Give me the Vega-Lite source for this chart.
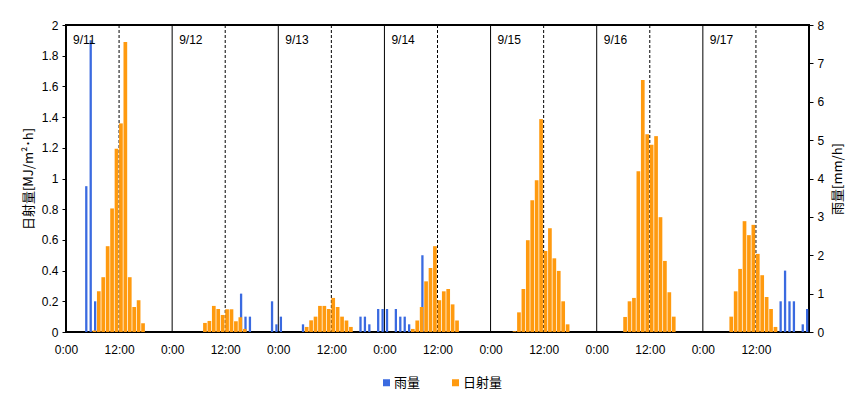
{
  "$schema": "https://vega.github.io/schema/vega-lite/v6.json",
  "width": 743,
  "height": 307,
  "autosize": "none",
  "padding": {"left": 66, "top": 25, "right": 56, "bottom": 65},
  "background": "white",
  "config": {
    "view": {"stroke": "black", "strokeWidth": 2},
    "axis": {"labelFont": "Liberation Sans", "labelFontSize": 12, "labelColor": "black", "labelFlush": false, "labelOverlap": false, "grid": false, "domain": false, "tickColor": "black", "titleFont": "Noto Sans CJK JP", "titleFontSize": 13, "titleFontWeight": "normal", "titleColor": "black"}
  },
  "datasets": {
    "rain": [
      {"t": 4, "mm": 3.8}, {"t": 5, "mm": 7.6}, {"t": 6, "mm": 0.8},
      {"t": 39, "mm": 1.0}, {"t": 40, "mm": 0.4}, {"t": 41, "mm": 0.4}, {"t": 46, "mm": 0.8}, {"t": 47, "mm": 0.2},
      {"t": 48, "mm": 0.4}, {"t": 53, "mm": 0.2}, {"t": 66, "mm": 0.4}, {"t": 67, "mm": 0.4}, {"t": 68, "mm": 0.2}, {"t": 70, "mm": 0.6}, {"t": 71, "mm": 0.6},
      {"t": 72, "mm": 0.6}, {"t": 74, "mm": 0.6}, {"t": 75, "mm": 0.4}, {"t": 76, "mm": 0.4}, {"t": 77, "mm": 0.2}, {"t": 80, "mm": 2.0},
      {"t": 161, "mm": 0.8}, {"t": 162, "mm": 1.6}, {"t": 163, "mm": 0.8}, {"t": 164, "mm": 0.8}, {"t": 166, "mm": 0.2}, {"t": 167, "mm": 0.6}
    ],
    "solar": [
      {"t": 6, "mj": 0.01}, {"t": 7, "mj": 0.265}, {"t": 8, "mj": 0.357}, {"t": 9, "mj": 0.559}, {"t": 10, "mj": 0.805}, {"t": 11, "mj": 1.193}, {"t": 12, "mj": 1.359}, {"t": 13, "mj": 1.889}, {"t": 14, "mj": 0.357}, {"t": 15, "mj": 0.163}, {"t": 16, "mj": 0.207}, {"t": 17, "mj": 0.057},
      {"t": 31, "mj": 0.059}, {"t": 32, "mj": 0.072}, {"t": 33, "mj": 0.17}, {"t": 34, "mj": 0.15}, {"t": 35, "mj": 0.111}, {"t": 36, "mj": 0.148}, {"t": 37, "mj": 0.148}, {"t": 38, "mj": 0.07}, {"t": 39, "mj": 0.096}, {"t": 40, "mj": 0.02},
      {"t": 54, "mj": 0.033}, {"t": 55, "mj": 0.076}, {"t": 56, "mj": 0.1}, {"t": 57, "mj": 0.17}, {"t": 58, "mj": 0.17}, {"t": 59, "mj": 0.15}, {"t": 60, "mj": 0.222}, {"t": 61, "mj": 0.163}, {"t": 62, "mj": 0.1}, {"t": 63, "mj": 0.075}, {"t": 64, "mj": 0.033},
      {"t": 78, "mj": 0.02}, {"t": 79, "mj": 0.075}, {"t": 80, "mj": 0.163}, {"t": 81, "mj": 0.33}, {"t": 82, "mj": 0.417}, {"t": 83, "mj": 0.559}, {"t": 84, "mj": 0.207}, {"t": 85, "mj": 0.265}, {"t": 86, "mj": 0.28}, {"t": 87, "mj": 0.18}, {"t": 88, "mj": 0.075},
      {"t": 101, "mj": 0.005}, {"t": 102, "mj": 0.128}, {"t": 103, "mj": 0.28}, {"t": 104, "mj": 0.598}, {"t": 105, "mj": 0.859}, {"t": 106, "mj": 0.989}, {"t": 107, "mj": 1.387}, {"t": 108, "mj": 0.528}, {"t": 109, "mj": 0.676}, {"t": 110, "mj": 0.48}, {"t": 111, "mj": 0.398}, {"t": 112, "mj": 0.2}, {"t": 113, "mj": 0.05},
      {"t": 126, "mj": 0.098}, {"t": 127, "mj": 0.2}, {"t": 128, "mj": 0.222}, {"t": 129, "mj": 1.048}, {"t": 130, "mj": 1.641}, {"t": 131, "mj": 1.289}, {"t": 132, "mj": 1.22}, {"t": 133, "mj": 1.276}, {"t": 134, "mj": 0.748}, {"t": 135, "mj": 0.463}, {"t": 136, "mj": 0.259}, {"t": 137, "mj": 0.1},
      {"t": 150, "mj": 0.1}, {"t": 151, "mj": 0.265}, {"t": 152, "mj": 0.411}, {"t": 153, "mj": 0.722}, {"t": 154, "mj": 0.631}, {"t": 155, "mj": 0.698}, {"t": 156, "mj": 0.509}, {"t": 157, "mj": 0.37}, {"t": 158, "mj": 0.228}, {"t": 159, "mj": 0.15}, {"t": 160, "mj": 0.033}
    ],
    "days": [
      {"t": 0, "label": "9/11"}, {"t": 24, "label": "9/12"}, {"t": 48, "label": "9/13"}, {"t": 72, "label": "9/14"},
      {"t": 96, "label": "9/15"}, {"t": 120, "label": "9/16"}, {"t": 144, "label": "9/17"}
    ],
    "midnights": [{"t": 24}, {"t": 48}, {"t": 72}, {"t": 96}, {"t": 120}, {"t": 144}],
    "noons": [{"t": 12}, {"t": 36}, {"t": 60}, {"t": 84}, {"t": 108}, {"t": 132}, {"t": 156}]
  },
  "layer": [
    {
      "data": {"name": "midnights"},
      "mark": {"type": "rule", "color": "black", "strokeWidth": 1},
      "encoding": {"x": {"field": "t", "type": "quantitative", "scale": {"domain": [0, 168], "nice": false, "zero": false, "padding": 0},
        "axis": {"values": [0, 12, 24, 36, 48, 60, 72, 84, 96, 108, 120, 132, 144, 156], "labelExpr": "datum.value % 24 == 0 ? '0:00' : '12:00'", "ticks": false, "labelPadding": 12, "title": null}}}
    },
    {
      "data": {"name": "noons"},
      "mark": {"type": "rule", "color": "black", "strokeWidth": 1, "strokeDash": [3, 2]},
      "encoding": {"x": {"field": "t", "type": "quantitative"}}
    },
    {
      "data": {"name": "rain"},
      "mark": {"type": "bar", "width": 2.3, "xOffset": 2.6},
      "encoding": {
        "x": {"field": "t", "type": "quantitative"},
        "y": {"field": "mm", "type": "quantitative", "scale": {"domain": [0, 8], "nice": false},
          "axis": {"orient": "right", "values": [0, 1, 2, 3, 4, 5, 6, 7, 8], "tickSize": 4, "labelPadding": 4, "title": "雨量[mm/h]", "titleAngle": 270, "titleBaseline": "top", "titlePadding": 8}},
        "color": {"datum": "雨量", "type": "nominal",
          "scale": {"domain": ["雨量", "日射量"], "range": ["#3A6AE0", "#FF9A0F"]},
          "legend": {"orient": "none", "legendX": 314, "legendY": 351, "direction": "horizontal", "title": null, "symbolType": "square", "symbolSize": 49, "symbolStrokeWidth": 0, "labelFont": "Noto Sans CJK JP", "labelFontSize": 13, "labelColor": "black", "labelOffset": 1, "columnPadding": 28, "padding": 0}}
      }
    },
    {
      "data": {"name": "solar"},
      "mark": {"type": "bar", "width": 3.7, "xOffset": 1.85},
      "encoding": {
        "x": {"field": "t", "type": "quantitative"},
        "y": {"field": "mj", "type": "quantitative", "scale": {"domain": [0, 2], "nice": false},
          "axis": {"orient": "left", "values": [0, 0.2, 0.4, 0.6, 0.8, 1, 1.2, 1.4, 1.6, 1.8, 2], "format": "~g", "tickSize": 4, "labelPadding": 4, "title": "日射量[MJ/m²･h]", "titlePadding": 6}},
        "color": {"datum": "日射量", "type": "nominal"}
      }
    },
    {
      "data": {"name": "days"},
      "mark": {"type": "text", "align": "left", "baseline": "middle", "dx": 7, "font": "Liberation Sans", "fontSize": 12, "color": "black"},
      "encoding": {
        "x": {"field": "t", "type": "quantitative"},
        "y": {"datum": 1.9, "type": "quantitative", "scale": {"domain": [0, 2], "nice": false}, "axis": null},
        "text": {"field": "label"}
      }
    }
  ],
  "resolve": {"scale": {"y": "independent"}}
}
